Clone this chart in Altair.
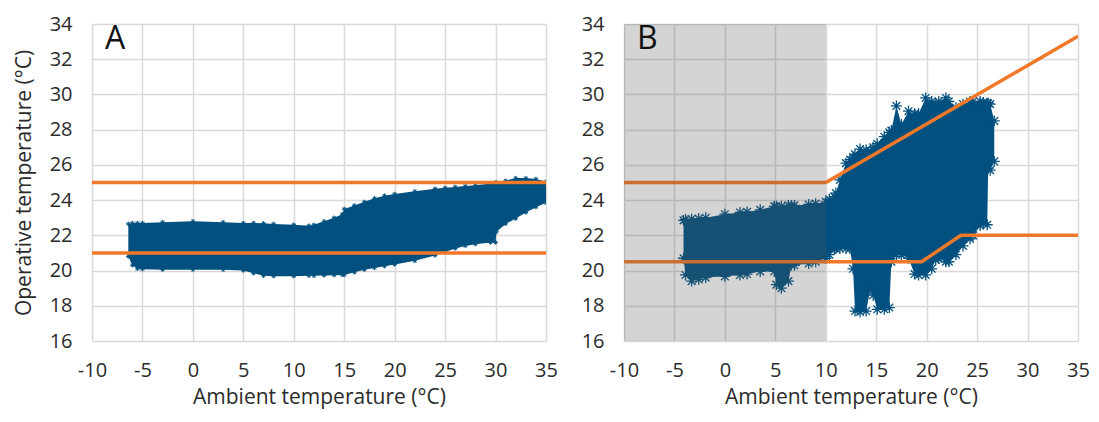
import altair as alt
import pandas as pd

FONT = "Open Sans"
BLUE = "#01507F"
ORANGE = "#F07828"
TEXT = "#2b2b2b"

x_ticks = [-10, -5, 0, 5, 10, 15, 20, 25, 30, 35]
y_ticks = [16, 18, 20, 22, 24, 26, 28, 30, 32, 34]

# ---- Panel A: envelope of the measured point cloud ----
a_x = [-6.4, -6.0, -5.5, -5.0, -3.0, 0.0, 3.0, 5.0, 6.0, 7.0,
       8.0, 10.0, 11.5, 12.0, 13.0, 14.0, 14.8, 15.0, 16.0, 17.0,
       18.0, 19.0, 20.0, 22.0, 24.0, 25.0, 26.0, 27.0, 28.0, 29.5,
       30.0, 30.1, 31.0, 32.0, 33.0, 34.0, 35.0]
a_high = [22.65, 22.7, 22.7, 22.7, 22.75, 22.8, 22.75, 22.7, 22.7, 22.68,
          22.65, 22.6, 22.55, 22.6, 22.8, 23.0, 23.2, 23.5, 23.7, 23.9,
          24.1, 24.25, 24.35, 24.5, 24.65, 24.7, 24.75, 24.8, 24.85, 24.95,
          25.0, 25.0, 25.1, 25.25, 25.25, 25.2, 25.05]
a_low = [20.8, 20.3, 20.1, 20.08, 20.05, 20.05, 20.05, 20.0, 19.85, 19.7,
         19.68, 19.68, 19.7, 19.7, 19.72, 19.74, 19.75, 19.75, 19.9, 20.05,
         20.15, 20.25, 20.35, 20.55, 20.85, 21.05, 21.25, 21.4, 21.5, 21.6,
         21.6, 22.2, 22.65, 22.95, 23.3, 23.6, 23.85]

# comfort limits A
a_lim_series = ["upper", "upper", "lower", "lower"]
a_lim_x = [-10, 35, -10, 35]
a_lim_y = [25, 25, 21, 21]

# ---- Panel B: envelope of the measured point cloud ----
b_x = [-4.1, -3.9, -3.3, -2.6, -1.9, 0.0, 1.5, 2.2, 3.5, 4.9,
       5.1, 5.6, 6.3, 6.6, 6.9, 8.3, 9.0, 10.0, 10.35, 10.85,
       11.0, 11.4, 12.0, 12.4, 12.7, 12.9, 13.4, 14.0, 14.4, 14.7,
       15.1, 15.8, 16.3, 16.5, 17.0, 17.5, 18.2, 18.8, 19.2, 19.9,
       20.5, 20.9, 21.2, 21.9, 22.2, 22.9, 23.6, 24.3, 24.6, 25.3,
       25.6, 26.0, 26.1, 26.3, 26.7]
b_low = [20.7, 19.75, 19.4, 19.5, 19.6, 19.67, 19.75, 19.8, 19.95, 19.95,
         19.2, 19.0, 19.4, 20.3, 20.3, 20.4, 20.5, 20.7, 20.9, 21.25,
         21.25, 21.25, 21.25, 21.25, 20.1, 17.7, 17.65, 17.7, 18.9, 18.6,
         17.8, 17.8, 17.9, 20.5, 20.9, 20.9, 20.7, 19.8, 19.75, 19.75,
         20.1, 20.6, 20.7, 20.5, 20.5, 20.9, 21.4, 21.8, 22.0, 22.55,
         22.7, 22.6, 25.8, 25.7, 26.2]
b_high = [22.85, 22.9, 22.92, 22.95, 23.0, 23.2, 23.3, 23.33, 23.45, 23.65,
          23.65, 23.65, 23.7, 23.7, 23.7, 23.75, 23.8, 23.9, 24.05, 24.2,
          24.4, 25.15, 26.1, 26.3, 26.45, 26.6, 26.9, 26.85, 26.8, 27.0,
          27.2, 27.6, 27.85, 27.95, 29.35, 28.3, 29.05, 28.9, 28.9, 29.8,
          29.6, 29.45, 29.6, 29.8, 29.6, 29.25, 29.45, 29.6, 29.6, 29.6,
          29.55, 29.5, 29.5, 29.45, 28.5]

# comfort limits B
b_lim_series = ["upper", "upper", "upper", "lower", "lower", "lower", "lower"]
b_lim_x = [-10, 10, 35, -10, 19.5, 23.4, 35]
b_lim_y = [25, 25, 33.3, 20.5, 20.5, 22, 22]

# shaded range in B
shade_x0 = [-10]
shade_x1 = [10]
shade_y0 = [16]
shade_y1 = [34]

ASTER = "M-1,0L1,0M0,-1L0,1M-0.7,-0.7L0.7,0.7M-0.7,0.7L0.7,-0.7"
W, H = 454, 317
LABEL_EXPR = "'' + datum.value"


def xs(field, title):
    return alt.X(field, type="quantitative",
                 scale=alt.Scale(domain=[-10, 35], nice=False, zero=False),
                 axis=alt.Axis(values=x_ticks, title=title, labelExpr=LABEL_EXPR))


def ys(field, title):
    return alt.Y(field, type="quantitative",
                 scale=alt.Scale(domain=[16, 34], nice=False, zero=False),
                 axis=alt.Axis(values=y_ticks, title=title, labelExpr=LABEL_EXPR))


def panel(xv, lo, hi, lim_s, lim_x, lim_y, letter, ytitle, pt_size, pt_width, shade=False):
    cloud = pd.DataFrame({"x": xv, "low": lo, "high": hi})
    pts = pd.DataFrame({"x": list(xv) + list(xv), "y": list(lo) + list(hi)})
    lim = pd.DataFrame({"s": lim_s, "x": lim_x, "y": lim_y})
    xt = "Ambient temperature (°C)"
    area = alt.Chart(cloud).mark_area(color=BLUE, opacity=1, clip=True, interpolate="linear").encode(
        x=xs("x", xt), y=ys("low", ytitle), y2="high")
    stars = alt.Chart(pts).mark_point(shape=ASTER, filled=False, stroke=BLUE, strokeWidth=pt_width,
                                      size=pt_size, opacity=1, clip=True).encode(
        x=xs("x", xt), y=ys("y", ytitle))
    lines = alt.Chart(lim).mark_line(color=ORANGE, strokeWidth=3.5, clip=True).encode(
        x=xs("x", xt), y=ys("y", ytitle), detail="s:N", order="x:Q")
    layers = [area, stars, lines]
    if shade:
        sd = pd.DataFrame({"x0": shade_x0, "x1": shade_x1, "y0": shade_y0, "y1": shade_y1})
        rect = alt.Chart(sd).mark_rect(color="#555555", opacity=0.25).encode(
            x=xs("x0", xt), x2="x1", y=ys("y0", ytitle), y2="y1")
        layers.append(rect)
    lab = alt.Chart(pd.DataFrame({"t": [letter]})).mark_text(
        font=FONT, fontSize=32, color="#111111", align="left", baseline="top").encode(
        text="t:N", x=alt.value(13), y=alt.value(0))
    layers.append(lab)
    return alt.layer(*layers).properties(width=W, height=H)


pA = panel(a_x, a_low, a_high, a_lim_series, a_lim_x, a_lim_y, "A",
           "Operative temperature (°C)", 20, 1.0)
pB = panel(b_x, b_low, b_high, b_lim_series, b_lim_x, b_lim_y, "B",
           None, 120, 1.3, shade=True)

chart = alt.hconcat(pA, pB, spacing=78, bounds="flush").properties(
    padding={"left": 5, "top": 6, "right": 0, "bottom": 5}
).configure_view(stroke=None).configure_axis(
    grid=True, gridColor="#D9D9D9", gridWidth=1.5, domain=False, ticks=False, tickSize=0,
    labelFlush=False, labelOverlap=False,
    labelFont=FONT, labelFontSize=20, labelColor=TEXT,
    titleFont=FONT, titleFontSize=21, titleColor=TEXT, titleFontWeight="normal"
).configure_axisX(labelPadding=19, titlePadding=6).configure_axisY(
    labelPadding=20, titlePadding=15)

chart.save("out.html", embed_options={"renderer": "svg", "actions": False})
